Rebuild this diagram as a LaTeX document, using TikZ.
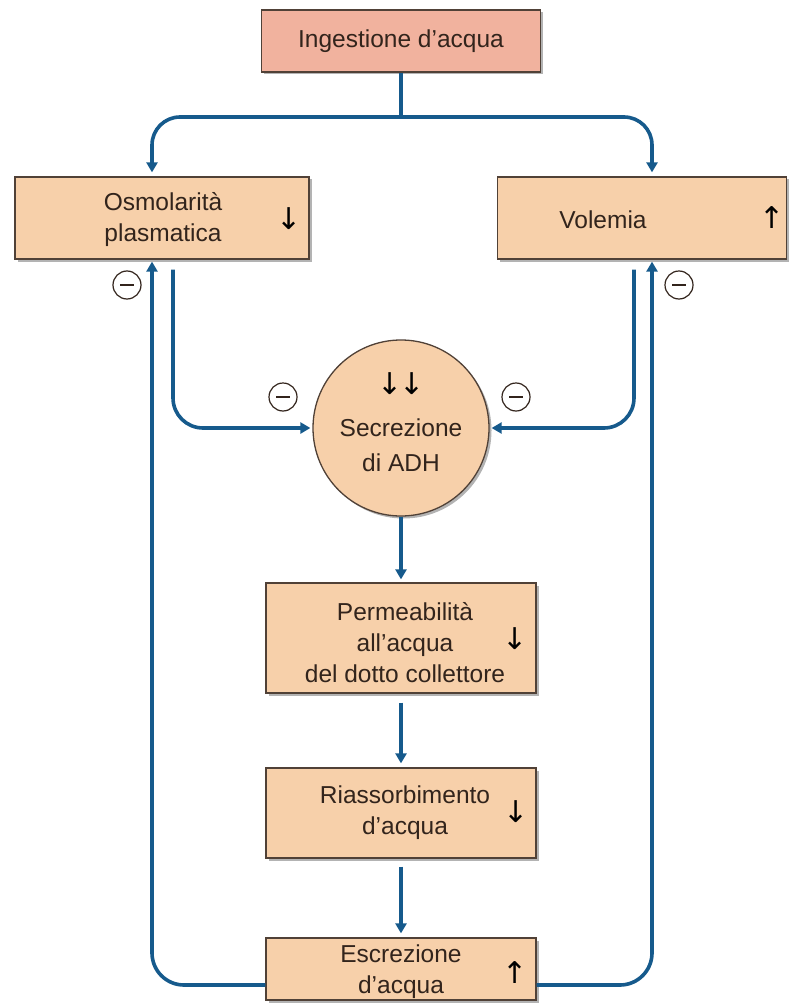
\documentclass[tikz,border=0pt]{standalone}
\usepackage{fontspec}
\setmainfont{Liberation Sans}
\newfontfamily\arrowfont{DejaVu Sans}
\usetikzlibrary{arrows.meta,shadows,calc}
\definecolor{flowblue}{RGB}{22,90,140}
\definecolor{peach}{RGB}{247,208,170}
\definecolor{salmon}{RGB}{241,178,158}
\definecolor{edgecol}{RGB}{80,65,55}
\definecolor{ink}{RGB}{50,36,28}
\begin{document}
\begin{tikzpicture}[x=1pt,y=-1pt,
 box/.style={draw=edgecol, line width=1.3pt, fill=peach, inner sep=0pt,
   drop shadow={shadow xshift=2.5pt, shadow yshift=-2.5pt, fill=black!50, opacity=0.6}},
 txt/.style={text=ink, font=\fontsize{24.5}{31}\selectfont, align=center, inner sep=0pt},
 sym/.style={text=black, font=\arrowfont\fontsize{30}{32}\selectfont, inner sep=0pt},
 flow/.style={draw=flowblue, line width=3.6pt, -{Triangle[width=11pt,length=10pt]}},
 plainflow/.style={draw=flowblue, line width=3.6pt},
 minus/.style={circle, draw=ink, line width=1.2pt, minimum size=28pt, inner sep=0pt,
   path picture={\draw[ink, line width=2pt] ([xshift=-7pt]path picture bounding box.center) -- ([xshift=7pt]path picture bounding box.center);}},
]
\useasboundingbox (0,0) rectangle (789,1003);

% boxes
\node[box, fill=salmon, minimum width=279pt, minimum height=62pt] (ing) at (401,41) {};
\node[box, minimum width=294pt, minimum height=82pt] (osm) at (162,218) {};
\node[box, minimum width=289pt, minimum height=82pt] (vol) at (642,218) {};
\node[box, circle, minimum size=176pt] (adh) at (401,428) {};
\node[box, minimum width=270pt, minimum height=110pt] (perm) at (401,638) {};
\node[box, minimum width=270pt, minimum height=90pt] (ria) at (401,813) {};
\node[box, minimum width=270pt, minimum height=62pt] (esc) at (401,969) {};

% texts
\node[txt] (tIng) at (ing.center) {Ingestione d’acqua};
\node[txt] (tOsm) at (163,220) {Osmolarità\\plasmatica};
\node[sym] (aOsm) at (289,219) {↓};
\node[txt] (tVol) at (603,220) {Volemia};
\node[sym] (aVol) at (772,218) {↑};
\node[sym] (aAdh) at (401,384) {↓\kern-4pt↓};
\node[txt, font=\fontsize{24.5}{35}\selectfont] (tAdh) at (401,445) {Secrezione\\di ADH};
\node[txt] (tPerm) at (405,643) {Permeabilità\\all’acqua\\del dotto collettore};
\node[sym] (aPerm) at (515,639) {↓};
\node[txt] (tRia) at (405,813) {Riassorbimento\\d’acqua};
\node[sym] (aRia) at (516,812) {↓};
\node[txt] (tEsc) at (401,972) {Escrezione\\d’acqua};
\node[sym] (aEsc) at (515,973) {↑};

% minus signs
\node[minus] (m1) at (127,285) {};
\node[minus] (m2) at (679,285) {};
\node[minus] (m3) at (283,397) {};
\node[minus] (m4) at (516,397) {};

% helper coordinates
\coordinate (jn) at (401,117);
\coordinate (xl) at (152,0);
\coordinate (xr) at (652,0);
\coordinate (xld) at (173,0);
\coordinate (xrd) at (634,0);

% connectors
\draw[plainflow] (ing.south) -- (jn);
\draw[flow, rounded corners=28pt] (jn) -| ([yshift=4pt]osm.north -| xl);
\draw[flow, rounded corners=28pt] (jn) -| ([yshift=4pt]vol.north -| xr);

\draw[flow, rounded corners=30pt] ([yshift=-10pt]osm.south -| xld) |- ([xshift=-2pt]adh.west);
\draw[flow, rounded corners=30pt] ([yshift=-10pt]vol.south -| xrd) |- ([xshift=2pt]adh.east);

\draw[flow, rounded corners=32pt] ($(esc.west)+(0,16)$) -| ([yshift=-2pt]osm.south -| xl);
\draw[flow, rounded corners=32pt] ($(esc.east)+(0,16)$) -| ([yshift=-2pt]vol.south -| xr);

\draw[flow, shorten >=3pt] (adh.south) -- (perm.north);
\draw[flow, shorten <=9pt, shorten >=4pt] (perm.south) -- (ria.north);
\draw[flow, shorten <=8pt, shorten >=4pt] (ria.south) -- (esc.north);
\end{tikzpicture}
\end{document}
